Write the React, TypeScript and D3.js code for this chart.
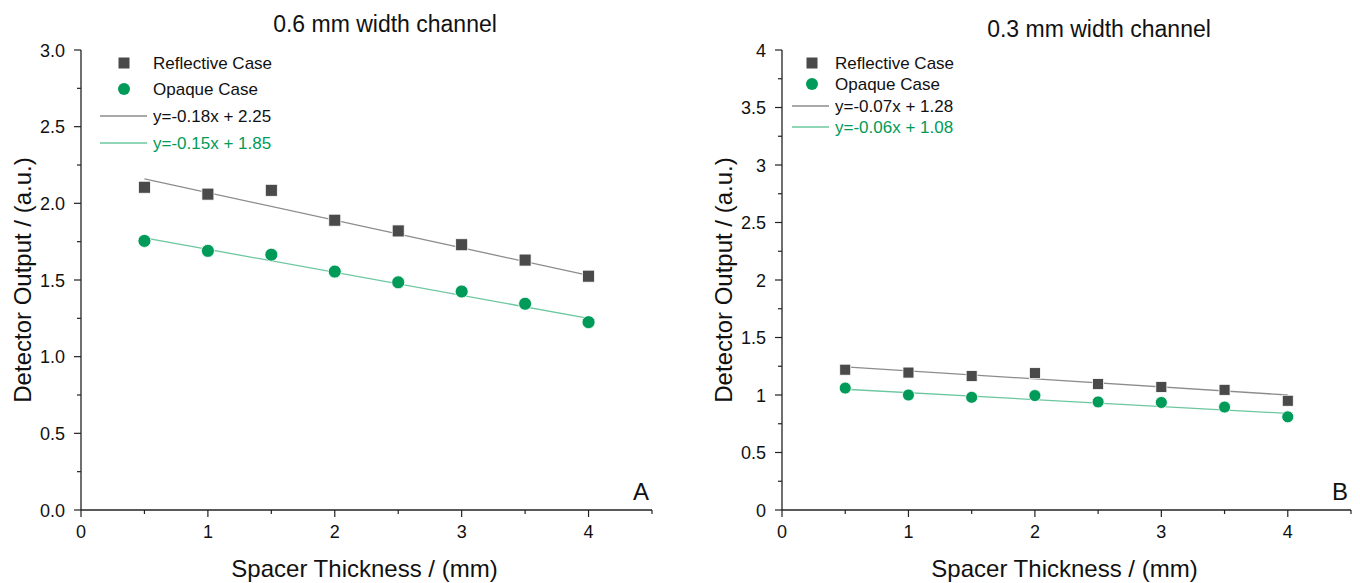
import React from "react";
import * as d3 from "d3";

const xs = [0.5, 1, 1.5, 2, 2.5, 3, 3.5, 4];
const reflectiveA = [2.105, 2.06, 2.085, 1.89, 1.82, 1.73, 1.63, 1.525];
const opaqueA = [1.755, 1.69, 1.665, 1.555, 1.485, 1.425, 1.345, 1.225];
const reflectiveB = [1.22, 1.195, 1.165, 1.19, 1.095, 1.07, 1.045, 0.95];
const opaqueB = [1.06, 1.0, 0.98, 0.995, 0.94, 0.935, 0.895, 0.81];
const fitA = { refl: [-0.18, 2.25], opaq: [-0.15, 1.85] };
const fitB = { refl: [-0.07, 1.28], opaq: [-0.06, 1.08] };
const xTicks = [0, 1, 2, 3, 4];
const yTicksA = [0, 0.5, 1, 1.5, 2, 2.5, 3];
const yTicksB = [0, 0.5, 1, 1.5, 2, 2.5, 3, 3.5, 4];

const FONT = "Arial, 'Liberation Sans', sans-serif";
const SQ = "#4a4a4a";
const GR = "#009b58";
const LGRAY = "#8c8c8c";
const LGREEN = "#6cc79f";

type PanelProps = {
  x0: number; x1: number; y0: number; y1: number;
  yMax: number; yTicks: number[]; yFmt: (v: number) => string;
  refl: number[]; opaq: number[]; fit: { refl: number[]; opaq: number[] };
  title: string; titleX: number; titleY: number; letter: string;
  legend: { mx: number; tx: number; lx0: number; lx1: number; rows: number[]; fs: number };
  msz: number;
};

function Panel(p: PanelProps) {
  const x = d3.scaleLinear().domain([0, 4.5]).range([p.x0, p.x1]);
  const y = d3.scaleLinear().domain([0, p.yMax]).range([p.y0, p.y1]);
  const minorX = d3.range(0, 4.51, 0.5);
  const minorY = d3.range(0, p.yMax + 0.01, 0.25);
  const line = (c: number[]) => {
    const g = d3.line<number>().x((v) => x(v)).y((v) => y(c[0] * v + c[1]));
    return g([0.5, 4]) || "";
  };
  const labels = [
    { kind: "sq", text: "Reflective Case", color: "#111" },
    { kind: "ci", text: "Opaque Case", color: "#111" },
    { kind: "lg", text: `y=${p.fit.refl[0].toFixed(2)}x + ${p.fit.refl[1].toFixed(2)}`, color: "#111" },
    { kind: "lgr", text: `y=${p.fit.opaq[0].toFixed(2)}x + ${p.fit.opaq[1].toFixed(2)}`, color: GR },
  ];
  const s = p.msz;
  return (
    <g fontFamily={FONT}>
      <text x={p.titleX} y={p.titleY} textAnchor="middle" fontSize={23} fill="#111">{p.title}</text>
      <line x1={p.x0} x2={p.x0} y1={p.y0} y2={p.y1} stroke="#222" strokeWidth={1.3} />
      <line x1={p.x0} x2={p.x1} y1={p.y0} y2={p.y0} stroke="#222" strokeWidth={1.3} />
      {minorX.map((v) => (
        <line key={"mx" + v} x1={x(v)} x2={x(v)} y1={p.y0} y2={p.y0 + (Number.isInteger(v) ? 7 : 4)} stroke="#222" strokeWidth={1.2} />
      ))}
      {minorY.map((v) => (
        <line key={"my" + v} x1={p.x0} x2={p.x0 - (p.yTicks.some((t) => Math.abs(t - v) < 1e-6) ? 7 : 4)} y1={y(v)} y2={y(v)} stroke="#222" strokeWidth={1.2} />
      ))}
      {xTicks.map((v) => (
        <text key={"xt" + v} x={x(v)} y={p.y0 + 28} textAnchor="middle" fontSize={18} fill="#111">{v}</text>
      ))}
      {p.yTicks.map((v) => (
        <text key={"yt" + v} x={p.x0 - 16} y={y(v) + 6.5} textAnchor="end" fontSize={18} fill="#111">{p.yFmt(v)}</text>
      ))}
      <text x={(p.x0 + p.x1) / 2 - 2} y={577} textAnchor="middle" fontSize={24} fill="#111">Spacer Thickness / (mm)</text>
      <text transform={`translate(${p.x0 - 50},${(p.y0 + p.y1) / 2}) rotate(-90)`} textAnchor="middle" fontSize={24} fill="#111">Detector Output / (a.u.)</text>
      <text x={p.x1 - 3} y={p.y0 - 10} textAnchor="end" fontSize={24} fill="#111">{p.letter}</text>
      <path d={line(p.fit.refl)} stroke={LGRAY} strokeWidth={1.3} fill="none" />
      <path d={line(p.fit.opaq)} stroke={LGREEN} strokeWidth={1.3} fill="none" />
      {xs.map((v, i) => (
        <rect key={"r" + i} x={x(v) - s / 2} y={y(p.refl[i]) - s / 2} width={s} height={s} fill={SQ} stroke="#fff" strokeWidth={0.8} />
      ))}
      {xs.map((v, i) => (
        <circle key={"c" + i} cx={x(v)} cy={y(p.opaq[i])} r={s / 2 + 0.5} fill={GR} stroke="#fff" strokeWidth={0.8} />
      ))}
      {labels.map((l, i) => {
        const ry = p.legend.rows[i];
        return (
          <g key={"lg" + i}>
            {l.kind === "sq" && <rect x={p.legend.mx - 5.5} y={ry - 5.5} width={11} height={11} fill={SQ} />}
            {l.kind === "ci" && <circle cx={p.legend.mx} cy={ry} r={6} fill={GR} />}
            {l.kind === "lg" && <line x1={p.legend.lx0} x2={p.legend.lx1} y1={ry} y2={ry} stroke={LGRAY} strokeWidth={1.3} />}
            {l.kind === "lgr" && <line x1={p.legend.lx0} x2={p.legend.lx1} y1={ry} y2={ry} stroke={LGREEN} strokeWidth={1.3} />}
            <text x={p.legend.tx} y={ry + 6} fontSize={p.legend.fs} fill={l.color}>{l.text}</text>
          </g>
        );
      })}
    </g>
  );
}

export default function App() {
  return (
    <svg width={1360} height={583} style={{ position: "absolute", left: 0, top: 0, background: "#fff" }}>
      <rect width={1360} height={583} fill="#fff" />
      <Panel
        x0={81} x1={652} y0={510} y1={50} yMax={3} yTicks={yTicksA} yFmt={(v) => v.toFixed(1)}
        refl={reflectiveA} opaq={opaqueA} fit={fitA}
        title="0.6 mm width channel" titleX={385} titleY={32} letter="A"
        legend={{ mx: 124, tx: 153, lx0: 100, lx1: 147, rows: [63, 89, 116, 143], fs: 17 }}
        msz={12}
      />
      <Panel
        x0={782} x1={1351} y0={510} y1={50} yMax={4} yTicks={yTicksB} yFmt={(v) => String(v)}
        refl={reflectiveB} opaq={opaqueB} fit={fitB}
        title="0.3 mm width channel" titleX={1099} titleY={37} letter="B"
        legend={{ mx: 812, tx: 835, lx0: 792, lx1: 829, rows: [63, 84, 106, 127], fs: 17 }}
        msz={11}
      />
    </svg>
  );
}
